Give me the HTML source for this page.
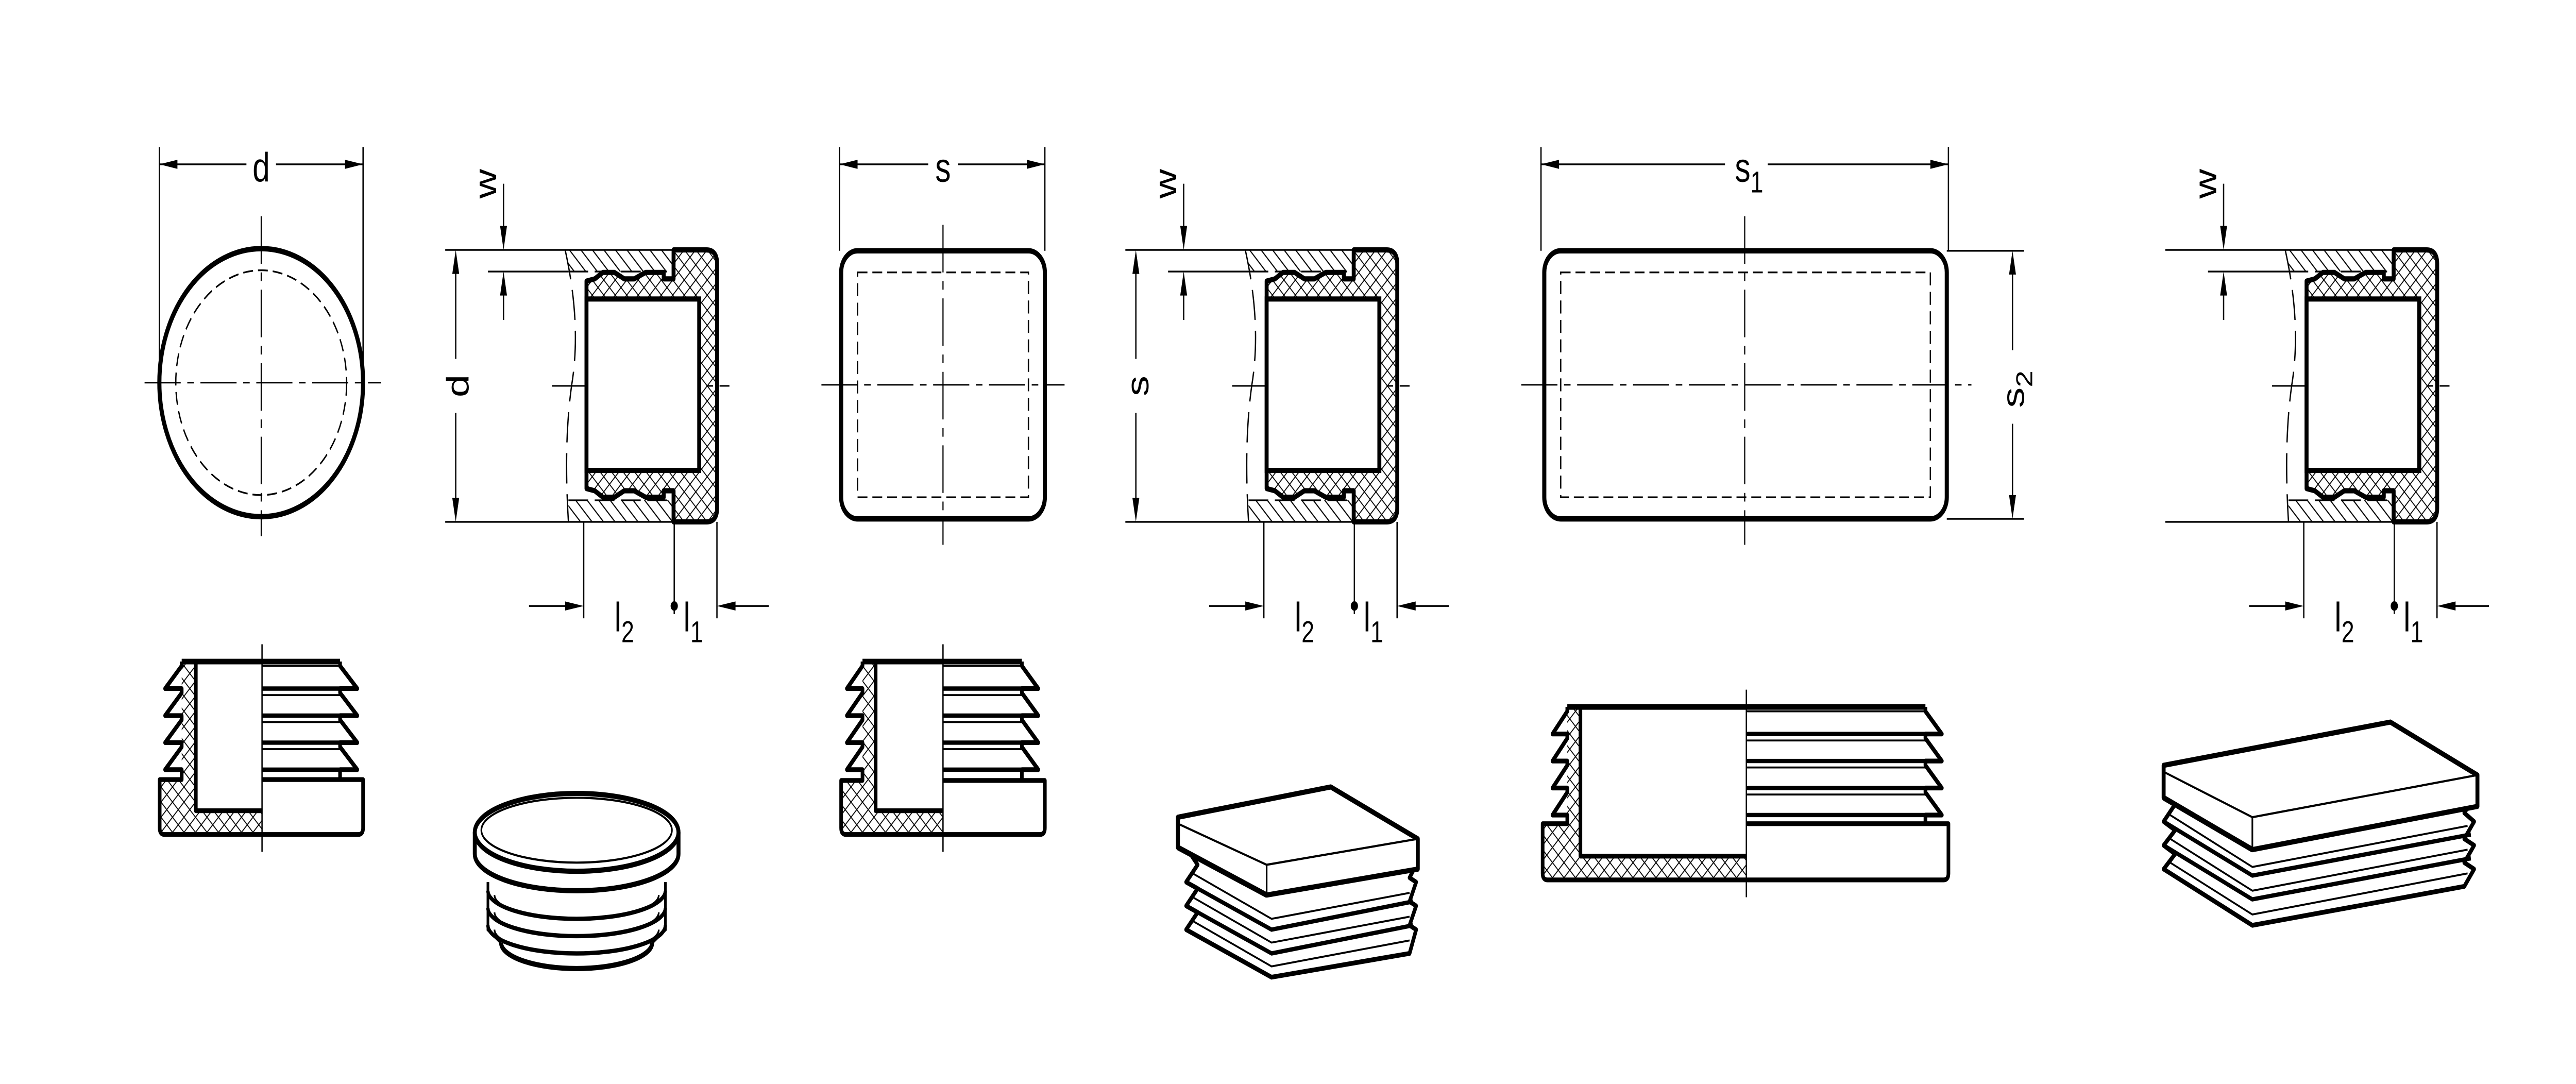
<!DOCTYPE html>
<html><head><meta charset="utf-8">
<style>
html,body{margin:0;padding:0;background:#fff;overflow:hidden;width:100%;height:100%;}
svg{display:block;position:fixed;left:0;top:0;width:100vw;height:100vh;}
text{font-family:"Liberation Sans",Arial,sans-serif;fill:#000;}
</style></head>
<body>
<svg id="S" xmlns="http://www.w3.org/2000/svg" viewBox="0 0 1568 501.4" preserveAspectRatio="none">
<defs>
<pattern id="xh" width="7" height="7" patternUnits="userSpaceOnUse"><path d="M0,0L7,7M7,0L0,7" stroke="#000" stroke-width="0.5"/></pattern>
<pattern id="dh" width="7" height="7" patternUnits="userSpaceOnUse"><path d="M-1,-1L8,8M-1,6L1,8M6,-1L8,1" stroke="#000" stroke-width="0.6"/></pattern>
<g id="sec">
 <rect x="346" y="115.6" width="64" height="10" fill="url(#dh)"/>
 <rect x="346" y="231.4" width="64" height="10" fill="url(#dh)"/>
 <g stroke="#000" stroke-width="0.8" fill="none">
  <line x1="271" y1="115.6" x2="410" y2="115.6"/>
  <line x1="271" y1="241.4" x2="410" y2="241.4"/>
  <line x1="297" y1="125.6" x2="346" y2="125.6"/>
  <line x1="346" y1="125.6" x2="410" y2="125.6" stroke-dasharray="12,4"/>
  <line x1="346" y1="231.4" x2="410" y2="231.4" stroke-dasharray="12,4"/>
  <path d="M344,115.6 Q354,150 348,178 Q343,205 346,241.4" stroke-dasharray="14,5"/>
  <line x1="336" y1="178.5" x2="444" y2="178.5" stroke-dasharray="22,4,4,4" stroke-width="0.7"/>
  <line x1="355.3" y1="241.4" x2="355.3" y2="286"/>
  <line x1="410.4" y1="241.4" x2="410.4" y2="284"/>
  <line x1="436.4" y1="241.4" x2="436.4" y2="286"/>
  <line x1="322" y1="280.3" x2="346" y2="280.3"/>
  <line x1="446" y1="280.3" x2="468" y2="280.3"/>
  <line x1="306.5" y1="85" x2="306.5" y2="108"/>
  <line x1="306.5" y1="133" x2="306.5" y2="148"/>
 </g>
 <g fill="#000">
  <polygon points="355.3,280.3 344,278.2 344,282.4"/>
  <polygon points="436.4,280.3 447.7,278.2 447.7,282.4"/>
  <polygon points="306.5,115.6 304.4,104.5 308.6,104.5"/>
  <polygon points="306.5,125.6 304.4,136.7 308.6,136.7"/>
  <circle cx="410.4" cy="280.3" r="2.2"/>
 </g>
 <path d="M357,130 L362,129 L367,126 L374,126 L380,129 L386,129 L393,126 L404,126 V129 H410 V115.6 H430 Q436.5,115.6 436.5,122 V235 Q436.5,241.4 430,241.4 H410 V227 H404 V230 L393,230 L386,227 L380,227 L374,230 L367,230 L362,227 L357,226 Z" fill="url(#xh)" stroke="#000" stroke-width="2.4" stroke-linejoin="round"/>
 <rect x="357" y="138.3" width="68.6" height="79.3" fill="#fff" stroke="#000" stroke-width="2.4"/>
 <text x="374" y="292" font-size="19">l<tspan font-size="14" dy="5">2</tspan></text>
 <text x="416" y="292" font-size="19">l<tspan font-size="14" dy="5">1</tspan></text>
</g>
</defs>

<g stroke="#000" fill="none">
 <line x1="88" y1="177" x2="232" y2="177" stroke-width="0.7" stroke-dasharray="22,4,4,4"/>
 <line x1="159" y1="100" x2="159" y2="248" stroke-width="0.7" stroke-dasharray="22,4,4,4"/>
 <circle cx="159" cy="177" r="52" stroke-width="0.8" stroke-dasharray="6,3"/>
 <circle cx="159" cy="177" r="62" stroke-width="2.5"/>
 <line x1="97" y1="68" x2="97" y2="177" stroke-width="0.8"/>
 <line x1="221" y1="68" x2="221" y2="177" stroke-width="0.8"/>
 <line x1="97" y1="76" x2="150" y2="76" stroke-width="0.8"/>
 <line x1="168" y1="76" x2="221" y2="76" stroke-width="0.8"/>
</g>
<g fill="#000"><polygon points="97,76 108,73.9 108,78.1"/><polygon points="221,76 210,73.9 210,78.1"/></g>
<text x="159" y="84" font-size="19" text-anchor="middle">d</text>

<use href="#sec"/>
<use href="#sec" x="414"/>
<use href="#sec" x="1047"/>

<g stroke="#000" stroke-width="0.8">
 <line x1="277.4" y1="120" x2="277.4" y2="166"/><line x1="277.4" y1="191" x2="277.4" y2="237"/>
 <line x1="691.4" y1="120" x2="691.4" y2="166"/><line x1="691.4" y1="191" x2="691.4" y2="237"/>
</g>
<g fill="#000">
 <polygon points="277.4,115.6 275.3,126.7 279.5,126.7"/><polygon points="277.4,241.4 275.3,230.3 279.5,230.3"/>
 <polygon points="691.4,115.6 689.3,126.7 693.5,126.7"/><polygon points="691.4,241.4 689.3,230.3 693.5,230.3"/>
</g>
<text transform="translate(285,178.5) rotate(-90)" font-size="19" text-anchor="middle">d</text>
<text transform="translate(699,178.5) rotate(-90)" font-size="19" text-anchor="middle">s</text>
<text transform="translate(302,85) rotate(-90)" font-size="19" text-anchor="middle">w</text>
<text transform="translate(716,85) rotate(-90)" font-size="19" text-anchor="middle">w</text>
<text transform="translate(1349,85) rotate(-90)" font-size="19" text-anchor="middle">w</text>

<g stroke="#000" fill="none">
 <line x1="500" y1="178" x2="648" y2="178" stroke-width="0.7" stroke-dasharray="22,4,4,4"/>
 <line x1="574" y1="104" x2="574" y2="252" stroke-width="0.7" stroke-dasharray="22,4,4,4"/>
 <rect x="522" y="126" width="104" height="104" stroke-width="0.8" stroke-dasharray="6,3"/>
 <rect x="512" y="116" width="124" height="124" rx="10" stroke-width="2.5"/>
 <line x1="511" y1="68" x2="511" y2="116" stroke-width="0.8"/>
 <line x1="636" y1="68" x2="636" y2="116" stroke-width="0.8"/>
 <line x1="511" y1="76" x2="565" y2="76" stroke-width="0.8"/>
 <line x1="583" y1="76" x2="636" y2="76" stroke-width="0.8"/>
</g>
<g fill="#000"><polygon points="511,76 522,73.9 522,78.1"/><polygon points="636,76 625,73.9 625,78.1"/></g>
<text x="574" y="84" font-size="19" text-anchor="middle">s</text>

<g stroke="#000" fill="none">
 <line x1="926" y1="178" x2="1200" y2="178" stroke-width="0.7" stroke-dasharray="22,4,4,4"/>
 <line x1="1062" y1="100" x2="1062" y2="252" stroke-width="0.7" stroke-dasharray="22,4,4,4"/>
 <rect x="950" y="126" width="225" height="104" stroke-width="0.8" stroke-dasharray="6,3"/>
 <rect x="940" y="116" width="245" height="124" rx="10" stroke-width="2.5"/>
 <line x1="938" y1="68" x2="938" y2="116" stroke-width="0.8"/>
 <line x1="1186" y1="68" x2="1186" y2="116" stroke-width="0.8"/>
 <line x1="938" y1="76" x2="1050" y2="76" stroke-width="0.8"/>
 <line x1="1076" y1="76" x2="1186" y2="76" stroke-width="0.8"/>
 <line x1="1185" y1="116" x2="1232" y2="116" stroke-width="0.8"/>
 <line x1="1185" y1="240" x2="1232" y2="240" stroke-width="0.8"/>
 <line x1="1225" y1="120" x2="1225" y2="162" stroke-width="0.8"/>
 <line x1="1225" y1="196" x2="1225" y2="236" stroke-width="0.8"/>
</g>
<g fill="#000"><polygon points="938,76 949,73.9 949,78.1"/><polygon points="1186,76 1175,73.9 1175,78.1"/>
<polygon points="1225,116 1222.9,127 1227.1,127"/><polygon points="1225,240 1222.9,229 1227.1,229"/></g>
<text x="1056" y="84" font-size="19">s<tspan font-size="14" dy="5">1</tspan></text>
<text transform="translate(1232,180) rotate(-90)" font-size="19" text-anchor="middle">s<tspan font-size="14" dy="5">2</tspan></text>

<g id="bottom"></g>

<g stroke="#000" fill="#fff" stroke-width="2">
 <path d="M305,436 A46,12 0 0 0 397,436" fill="none" stroke-width="2.4"/>
 <path d="M297,428 A54,13 0 0 0 405,428" fill="none"/>
 <path d="M301,430 A50,11 0 0 0 401,430" fill="none" stroke-width="1"/>
 <path d="M297,420 A54,13 0 0 0 405,420" fill="none"/>
 <path d="M301,422 A50,11 0 0 0 401,422" fill="none" stroke-width="1"/>
 <path d="M297,412 A54,13 0 0 0 405,412" fill="none"/>
 <path d="M301,414 A50,11 0 0 0 401,414" fill="none" stroke-width="1"/>
 <path d="M297,408 L297,430 L305,436 M405,408 L405,430 L397,436" fill="none" stroke-width="1.6"/>
 <path d="M289,385 V395 A62,17 0 0 0 413,395 V385" stroke-width="2.4"/>
 <ellipse cx="351" cy="385" rx="62" ry="18" stroke-width="2.4"/>
 <ellipse cx="351" cy="384" rx="58" ry="15" stroke-width="1" fill="none"/>
</g>

<g stroke="#000" fill="#fff" stroke-linejoin="round">
 <path d="M722,392 L729,400 L722,408 L729,411 L722,419 L729,422 L722,430 L774,452 L858,441 L862,430 L858,428 L862,419 L858,417 L862,408 L858,406 L862,400 Z" stroke-width="2.2"/>
 <g fill="none" stroke-width="2">
  <polyline points="722,408 774,430 860,417"/>
  <polyline points="722,419 774,441 860,428"/>
  <polyline points="726,404 774,425 858,413" stroke-width="0.9"/>
  <polyline points="726,415 774,436 858,424" stroke-width="0.9"/>
  <polyline points="726,426 774,447 858,435" stroke-width="0.9"/>
 </g>
 <path d="M717,378 L810,364 L863,388 L863,402 L771,414 L717,392 Z" stroke-width="2.4"/>
 <path d="M717,381 L771,400 L863,388 M771,400 L771,414" fill="none" stroke-width="1"/>
 <path d="M717,392 L771,414" fill="none" stroke-width="2.6"/>
</g>

<g stroke="#000" fill="#fff" stroke-linejoin="round">
 <path d="M1317,365 L1324,372 L1317,380 L1324,384 L1317,391 L1324,395 L1317,402 L1371,428 L1500,410 L1506,402 L1500,399 L1506,391 L1500,388 L1506,380 L1500,376 L1506,369 Z" stroke-width="2.2"/>
 <g fill="none" stroke-width="2">
  <polyline points="1317,380 1371,405 1504,386"/>
  <polyline points="1317,391 1371,416 1504,397"/>
  <polyline points="1321,377 1371,401 1502,382" stroke-width="0.9"/>
  <polyline points="1321,388 1371,412 1502,393" stroke-width="0.9"/>
  <polyline points="1321,399 1371,423 1502,404" stroke-width="0.9"/>
 </g>
 <path d="M1317,354 L1455,334 L1508,358.5 L1508,373 L1371,393 L1317,369 Z" stroke-width="2.4"/>
 <path d="M1317,357 L1371,378 L1508,358.5 M1371,378 L1371,393" fill="none" stroke-width="1"/>
 <path d="M1317,369 L1371,393" fill="none" stroke-width="2.6"/>
</g>
</svg>
<script>
(function(){
 function sv(o){
  var s='',p=(o.tEnd-o.top)/4,i,y0,y1;
  s+='<polygon points="'+o.xw+','+o.top+' '+o.xp+','+o.top+' '+o.xp+','+o.pBot+' '+o.xc+','+o.pBot+' '+o.xc+','+o.bot+' '+o.x0+','+o.bot+' '+o.x0+','+o.bTop+' '+o.xw+','+o.bTop+'" fill="url(#xh)"/>';
  var L='M'+o.xw+','+o.top, R='M'+o.xri+','+o.top;
  var H='';
  for(i=0;i<4;i++){
   y0=o.top+i*p+2; y1=o.top+(i+1)*p;
   L+=' L'+o.xw+','+y0+' L'+o.xt+','+y1+' L'+o.xw+','+y1;
   R+=' L'+o.xri+','+y0+' L'+o.xro+','+y1+' L'+o.xri+','+y1;
   H+='<line x1="'+o.xc+'" y1="'+y1+'" x2="'+o.xro+'" y2="'+y1+'" stroke-width="2"/>';
   H+='<line x1="'+o.xc+'" y1="'+(o.top+i*p+(i?3:2))+'" x2="'+o.xri+'" y2="'+(o.top+i*p+(i?3:2))+'" stroke-width="0.9"/>';
  }
  L+=' L'+o.xw+','+o.bTop+' L'+o.x0+','+o.bTop+' L'+o.x0+','+(o.bot-3)+' Q'+o.x0+','+o.bot+' '+(o.x0+3)+','+o.bot+' L'+(o.x1-3)+','+o.bot+' Q'+o.x1+','+o.bot+' '+o.x1+','+(o.bot-3)+' L'+o.x1+','+o.bTop+' L'+o.xc+','+o.bTop;
  R+=' L'+o.xri+','+o.bTop;
  s+='<g fill="none" stroke="#000" stroke-linejoin="round">';
  s+='<path d="'+L+'" stroke-width="2.2"/><path d="'+R+'" stroke-width="2.2"/>';
  s+='<line x1="'+o.xw+'" y1="'+o.top+'" x2="'+o.xri+'" y2="'+o.top+'" stroke-width="2.6"/>';
  s+='<path d="M'+o.xp+','+o.top+' V'+o.pBot+' H'+o.xc+'" stroke-width="2.2"/>';
  s+=H;
  s+='<line x1="'+o.xc+'" y1="'+(o.top-8)+'" x2="'+o.xc+'" y2="'+(o.bot+8)+'" stroke-width="0.8"/>';
  s+='</g>';
  return s;
 }
 var g=document.getElementById('bottom');
 g.innerHTML=sv({x0:97.2,xt:100.5,xw:110.6,xp:119.2,xc:159.5,xri:207,xro:217.5,x1:221,top:306,tEnd:356,bTop:360.6,pBot:375,bot:386})+
  sv({x0:512,xt:515.5,xw:525,xp:533,xc:574,xri:622,xro:632,x1:636,top:306,tEnd:356,bTop:361,pBot:375,bot:386})+
  sv({x0:939,xt:945,xw:954,xp:962,xc:1063,xri:1172,xro:1182,x1:1186,top:327,tEnd:377,bTop:381,pBot:396,bot:407});
})();
</script>
</body></html>
